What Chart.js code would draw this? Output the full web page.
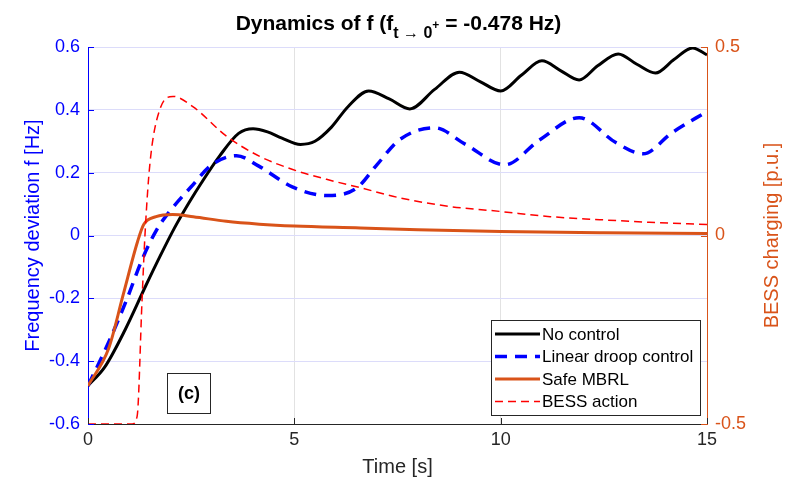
<!DOCTYPE html>
<html lang="en">
<head>
  <meta charset="UTF-8" />
  <title>Dynamics of f</title>
  <script src="https://cdn.jsdelivr.net/npm/chart.js"></script>
  <style>
    body { margin: 0; background: #fff; }
    #wrap { width: 787px; height: 485px; position: relative; }
  </style>
</head>
<body>
  <div id="wrap"><canvas id="freqChart"></canvas></div>

  <script>
    const FONT = "'Liberation Sans', Arial, Helvetica, sans-serif";

    // No control (black)
    const tNoCtrl = [0, 0.4, 0.9, 1.4, 1.75, 2.1, 2.45, 2.75, 3.2, 3.65, 4.0, 4.35, 4.7, 5.15, 5.5, 5.9, 6.3, 6.8, 7.3, 7.8, 8.4, 9.0, 9.5, 10.0, 10.5, 11.0, 11.45, 11.9, 12.35, 12.85, 13.3, 13.75, 14.2, 14.65, 15];
    const fNoCtrl = [-0.478, -0.42, -0.3, -0.16, -0.065, 0.025, 0.105, 0.168, 0.255, 0.325, 0.34, 0.33, 0.31, 0.29, 0.3, 0.345, 0.41, 0.46, 0.435, 0.403, 0.465, 0.52, 0.49, 0.46, 0.51, 0.556, 0.525, 0.495, 0.54, 0.578, 0.545, 0.517, 0.56, 0.597, 0.575];

    // Linear droop control (blue dashed)
    const tDroop = [0, 0.5, 0.95, 1.3, 1.65, 2.0, 2.5, 3.0, 3.6, 4.15, 4.95, 5.8, 6.5, 7.0, 7.55, 8.4, 9.15, 10.1, 10.95, 11.9, 12.8, 13.45, 14.15, 15];
    const fDroop = [-0.478, -0.34, -0.2, -0.08, 0.015, 0.08, 0.155, 0.225, 0.254, 0.22, 0.155, 0.127, 0.15, 0.225, 0.305, 0.343, 0.29, 0.225, 0.305, 0.375, 0.295, 0.26, 0.327, 0.395];

    // Safe MBRL (orange)
    const tMbrl = [0, 0.5, 0.85, 1.2, 1.35, 1.65, 2.05, 2.55, 3.35, 4.15, 5.0, 6.6, 8.0, 10.0, 12.5, 15];
    const fMbrl = [-0.478, -0.36, -0.19, -0.02, 0.035, 0.06, 0.067, 0.06, 0.045, 0.036, 0.03, 0.024, 0.018, 0.013, 0.009, 0.006];

    // BESS action (red dashed, right axis)
    const tBess = [0, 1.07, 1.19, 1.31, 1.38, 1.5, 1.74, 2.06, 2.54, 3.36, 4.16, 4.96, 5.78, 6.59, 7.55, 8.76, 9.97, 11.2, 12.4, 13.6, 15];
    const pBess = [-0.5, -0.5, -0.48, -0.17, 0.0, 0.19, 0.334, 0.369, 0.342, 0.263, 0.21, 0.175, 0.149, 0.127, 0.1, 0.077, 0.064, 0.05, 0.042, 0.035, 0.029];

    const xTicks = [0, 5, 10, 15];
    const leftTicks = [-0.6, -0.4, -0.2, 0, 0.2, 0.4, 0.6];
    const rightTicks = [-0.5, 0, 0.5];

    const BLUE = '#0000ff';
    const ORANGE = '#d95319';
    const DARK = '#262626';

    function pts(ts, vs) {
      return ts.map((t, i) => ({ x: t, y: vs[i] }));
    }
    function fmt(v) {
      return String(parseFloat(v.toFixed(1)));
    }

    // title with sub/superscript, inward tick marks, (c) box, legend, right axis title
    const overlay = {
      id: 'overlay',
      afterDraw(chart) {
        const ctx = chart.ctx;
        const a = chart.chartArea;
        const xs = chart.scales.x, ys = chart.scales.y, y2 = chart.scales.y2;
        ctx.save();

        // tick marks pointing inward
        ctx.lineWidth = 1;
        ctx.strokeStyle = DARK;
        xTicks.forEach(t => {
          const px = Math.round(xs.getPixelForValue(t)) + 0.5;
          ctx.beginPath(); ctx.moveTo(px, a.bottom); ctx.lineTo(px, a.bottom - 6); ctx.stroke();
        });
        ctx.strokeStyle = BLUE;
        leftTicks.forEach(t => {
          const py = Math.round(ys.getPixelForValue(t)) + 0.5;
          ctx.beginPath(); ctx.moveTo(a.left, py); ctx.lineTo(a.left + 6, py); ctx.stroke();
        });
        ctx.strokeStyle = ORANGE;
        rightTicks.forEach(t => {
          const py = Math.round(y2.getPixelForValue(t)) + 0.5;
          ctx.beginPath(); ctx.moveTo(a.right, py); ctx.lineTo(a.right - 6, py); ctx.stroke();
        });

        // title
        const parts = [
          { s: 'Dynamics of f (f', f: 'bold 21px ' + FONT, dy: 0 },
          { s: 't \u2192 0', f: 'bold 16px ' + FONT, dy: 8 },
          { s: '+', f: 'bold 12px ' + FONT, dy: -1 },
          { s: ' = -0.478 Hz)', f: 'bold 21px ' + FONT, dy: 0 }
        ];
        let w = 0;
        parts.forEach(p => { ctx.font = p.f; p.w = ctx.measureText(p.s).width; w += p.w; });
        let x = (a.left + a.right) / 2 + 1 - w / 2;
        const base = 30;
        ctx.fillStyle = '#000';
        ctx.textAlign = 'left';
        ctx.textBaseline = 'alphabetic';
        parts.forEach(p => {
          ctx.font = p.f;
          ctx.fillText(p.s, x, base + p.dy);
          x += p.w;
        });

        // right axis title, bottom-to-top
        ctx.save();
        ctx.translate(772, (a.top + a.bottom) / 2);
        ctx.rotate(-Math.PI / 2);
        ctx.font = '20px ' + FONT;
        ctx.fillStyle = ORANGE;
        ctx.textAlign = 'center';
        ctx.textBaseline = 'middle';
        ctx.fillText('BESS charging [p.u.]', 0, 0);
        ctx.restore();

        // (c) label
        ctx.fillStyle = '#fff';
        ctx.fillRect(167, 373, 43, 40);
        ctx.strokeStyle = DARK;
        ctx.strokeRect(167.5, 373.5, 43, 40);
        ctx.fillStyle = '#000';
        ctx.font = 'bold 18px ' + FONT;
        ctx.textAlign = 'center';
        ctx.textBaseline = 'middle';
        ctx.fillText('(c)', 189, 394);

        // legend
        const lx = 491, ly = 320, lw = 209, lh = 95;
        ctx.fillStyle = '#fff';
        ctx.fillRect(lx, ly, lw, lh);
        ctx.strokeStyle = DARK;
        ctx.lineWidth = 1;
        ctx.strokeRect(lx + 0.5, ly + 0.5, lw, lh);
        ctx.font = '17px ' + FONT;
        ctx.textAlign = 'left';
        ctx.textBaseline = 'middle';
        chart.data.datasets.forEach((ds, i) => {
          const yy = ly + 14 + i * 22.5;
          ctx.save();
          ctx.strokeStyle = ds.borderColor;
          ctx.lineWidth = ds.borderWidth;
          ctx.setLineDash(ds.borderDash || []);
          ctx.beginPath(); ctx.moveTo(lx + 4, yy); ctx.lineTo(lx + 49, yy); ctx.stroke();
          ctx.restore();
          ctx.fillStyle = '#000';
          ctx.fillText(ds.label, lx + 51, yy + 1);
        });

        ctx.restore();
      }
    };

    const ctx = document.getElementById('freqChart').getContext('2d');
    const freqChart = new Chart(ctx, {
      type: 'line',
      data: {
        datasets: [
          {
            label: 'No control',
            data: pts(tNoCtrl, fNoCtrl),
            borderColor: '#000000',
            borderWidth: 3,
            yAxisID: 'y',
            order: 4
          },
          {
            label: 'Linear droop control',
            data: pts(tDroop, fDroop),
            borderColor: BLUE,
            borderWidth: 3.5,
            borderDash: [12, 8],
            yAxisID: 'y',
            order: 3
          },
          {
            label: 'Safe MBRL',
            data: pts(tMbrl, fMbrl),
            borderColor: ORANGE,
            borderWidth: 3,
            yAxisID: 'y',
            order: 2
          },
          {
            label: 'BESS action',
            data: pts(tBess, pBess),
            borderColor: '#ff0000',
            borderWidth: 1.5,
            borderDash: [8, 5],
            yAxisID: 'y2',
            order: 1
          }
        ]
      },
      options: {
        responsive: true,
        maintainAspectRatio: false,
        animation: false,
        elements: {
          point: { radius: 0 },
          line: { cubicInterpolationMode: 'monotone', fill: false }
        },
        layout: { padding: { top: 47, left: 0, right: 0, bottom: 0 } },
        plugins: {
          legend: { display: false },
          title: { display: false },
          tooltip: { enabled: false }
        },
        scales: {
          x: {
            type: 'linear',
            min: 0,
            max: 15,
            afterBuildTicks: s => { s.ticks = xTicks.map(v => ({ value: v })); },
            afterFit: s => { s.height = 61; },
            ticks: { color: DARK, font: { family: FONT, size: 18 }, padding: 5, maxRotation: 0 },
            grid: {
              drawTicks: false,
              color: c => (c.tick && (c.tick.value === 0 || c.tick.value === 15)) ? 'rgba(0,0,0,0)' : '#e2e2e2'
            },
            border: { display: true, color: DARK, width: 1 },
            title: {
              display: true,
              text: 'Time [s]',
              color: DARK,
              font: { family: FONT, size: 20 },
              padding: { top: 0, bottom: 6 }
            }
          },
          y: {
            position: 'left',
            min: -0.6,
            max: 0.6,
            afterBuildTicks: s => { s.ticks = leftTicks.map(v => ({ value: v })); },
            afterFit: s => { s.width = 88; },
            ticks: { color: BLUE, font: { family: FONT, size: 18 }, padding: 8, callback: v => fmt(v) },
            grid: {
              drawTicks: false,
              color: c => (c.tick && c.tick.value === -0.6) ? 'rgba(0,0,0,0)' : '#dcdcfa'
            },
            border: { display: true, color: BLUE, width: 1 },
            title: {
              display: true,
              text: 'Frequency deviation f [Hz]',
              color: BLUE,
              font: { family: FONT, size: 20 },
              padding: { top: 21, bottom: 0 }
            }
          },
          y2: {
            position: 'right',
            min: -0.5,
            max: 0.5,
            afterBuildTicks: s => { s.ticks = rightTicks.map(v => ({ value: v })); },
            afterFit: s => { s.width = 80; },
            ticks: { color: ORANGE, font: { family: FONT, size: 18 }, padding: 8, callback: v => fmt(v) },
            grid: { display: false, drawTicks: false },
            border: { display: true, color: ORANGE, width: 1 }
          }
        }
      },
      plugins: [overlay]
    });
  </script>
</body>
</html>
